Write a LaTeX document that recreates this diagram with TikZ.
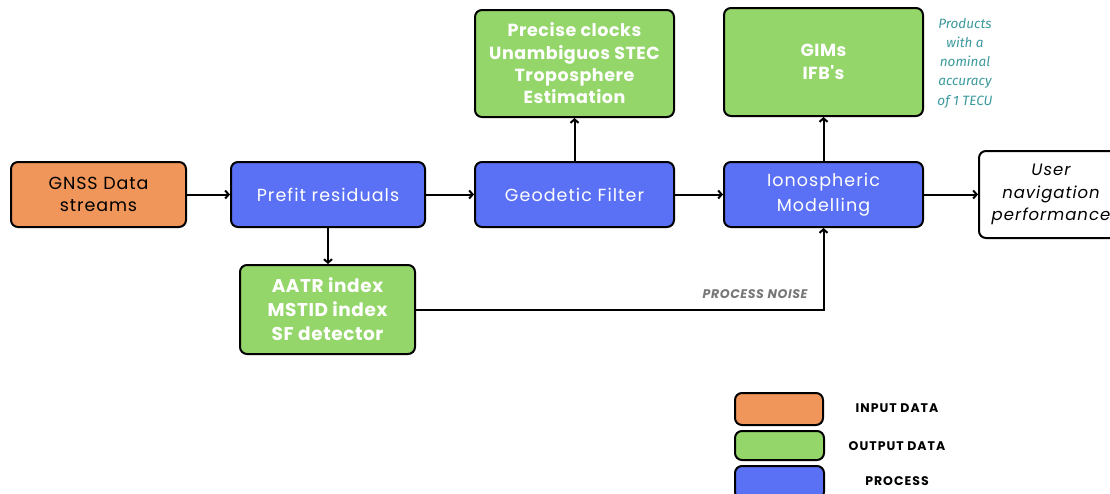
\documentclass[tikz,border=0pt]{standalone}
\usepackage{fontspec}
\setmainfont{Poppins}[Ligatures=TeXOff]
\newfontfamily\notefont{Fira Sans}
\usetikzlibrary{arrows.meta}
\definecolor{inorange}{HTML}{F0965A}
\definecolor{outgreen}{HTML}{94D66A}
\definecolor{procblue}{HTML}{5A70F5}
\definecolor{noteteal}{HTML}{3C9A9E}
\definecolor{noisegrey}{HTML}{777777}
\tikzset{
  box/.style={draw=black, line width=2pt, rounded corners=7pt, inner sep=0pt, align=center},
  inbox/.style={box, fill=inorange, text=black, font=\fontsize{17.5}{22}\selectfont\addfontfeatures{LetterSpace=5}},
  outbox/.style={box, fill=outgreen, text=white, font=\fontsize{17.5}{22.3}\bfseries\addfontfeatures{LetterSpace=3}},
  bigout/.style={outbox, font=\fontsize{18.5}{24}\bfseries\addfontfeatures{LetterSpace=3}},
  procbox/.style={box, fill=procblue, text=white, font=\fontsize{17.5}{25}\selectfont\addfontfeatures{LetterSpace=6}},
  userbox/.style={box, fill=white, text=black, font=\fontsize{16.5}{22.5}\itshape\addfontfeatures{LetterSpace=6}},
  legendbox/.style={draw=black, line width=2pt, rounded corners=7pt},
  legendtext/.style={font=\fontsize{12.5}{14}\bfseries\addfontfeatures{LetterSpace=8}},
  flow/.style={line width=2pt, -{Straight Barb[length=3.5pt,width=8pt]}}
}
\begin{document}
\begin{tikzpicture}[x=1pt,y=-1pt]
\useasboundingbox[fill=white] (0,0) rectangle (1110,493);

% main flow
\node[inbox, minimum width=175pt, minimum height=65pt] (gnss) at (98.5,194.5) {GNSS Data\\streams};
\node[procbox, minimum width=194pt, minimum height=65pt] (prefit) at (328,194.5) {Prefit residuals};
\node[procbox, minimum width=199pt, minimum height=65pt] (geo) at (574.5,194.5) {Geodetic Filter};
\node[procbox, minimum width=199pt, minimum height=65pt] (iono) at (823.5,194.5) {Ionospheric\\Modelling};
\node[userbox, minimum width=144pt, minimum height=87pt] (user) at (1051,194.5) {User\\navigation\\performance};

% outputs
\node[outbox, minimum width=199pt, minimum height=107pt] (clocks) at (574.5,63.5) {Precise clocks\\Unambiguos STEC\\Troposphere\\Estimation};
\node[outbox, minimum width=199pt, minimum height=108pt] (gims) at (823.5,62) {GIMs\\IFB's};
\node[bigout, minimum width=175pt, minimum height=89pt] (aatr) at (327.5,309.5) {AATR index\\MSTID index\\SF detector};

% note on the ionospheric products
\node[font=\fontsize{13.5}{19.2}\notefont\itshape, text=noteteal, align=center] (note) at (965,63) {Products\\with a\\nominal\\accuracy\\of 1 TECU};

% connectors
\draw[flow] (gnss.east) -- (prefit.west);
\draw[flow] (prefit.east) -- (geo.west);
\draw[flow] (geo.east) -- (iono.west);
\draw[flow] (iono.east) -- (user.west |- iono.east);
\draw[flow] (prefit.south) -- (aatr.north -| prefit.south);
\draw[flow] (geo.north) -- (clocks.south);
\draw[flow] (iono.north) -- (gims.south);
\coordinate (noisebend) at (iono.south |- aatr.east);
\draw[flow] (aatr.east) -- (noisebend) -- (iono.south);
\node[font=\fontsize{12.5}{14}\bfseries\itshape\addfontfeatures{LetterSpace=5}, text=noisegrey, anchor=east] (noise) at (811,294.5) {PROCESS NOISE};

% legend
\draw[legendbox, fill=inorange] (735,393) rectangle (823,425);
\draw[legendbox, fill=outgreen] (735,431) rectangle (824,460);
\draw[legendbox, fill=procblue] (735,466) rectangle (824,499);
\node[legendtext] (lin) at (897,408.5) {INPUT DATA};
\node[legendtext] (lout) at (897,446) {OUTPUT DATA};
\node[legendtext] (lproc) at (897,481) {PROCESS};
\end{tikzpicture}
\end{document}
